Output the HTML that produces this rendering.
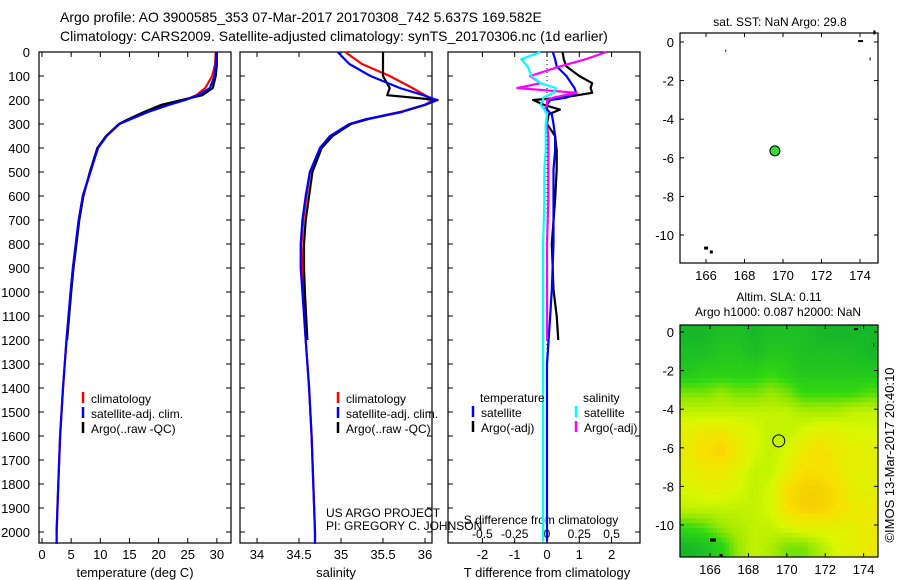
<!DOCTYPE html>
<html><head><meta charset="utf-8">
<style>
body{margin:0;background:#fff;}
svg{display:block;font-family:"Liberation Sans",sans-serif;}
</style></head>
<body>
<svg id="c" width="900" height="580" viewBox="0 0 900 580"></svg>
<script>
const depths=[0,50,100,150,180,200,220,250,280,300,350,400,500,600,700,800,900,1000,1200,1400,1600,1800,2000,2050];
const tempClim=[29.8,29.7,29.2,28.0,26.5,24.5,21.5,18.0,15.0,13.2,11.0,9.5,8.3,7.0,6.3,5.8,5.3,4.9,4.2,3.6,3.1,2.8,2.5,2.5];
const tempSat=[29.9,29.8,29.6,28.8,26.8,24.6,21.8,18.2,15.2,13.3,11.1,9.6,8.3,7.0,6.3,5.8,5.3,4.9,4.2,3.6,3.1,2.8,2.5,2.5];
const tempArgo=[30.0,30.0,29.8,29.3,27.5,24.0,20.5,17.5,14.8,13.2,11.0,9.5,8.2,7.1,6.4,5.9,5.4,5.0,4.3];
const salClim=[35.05,35.25,35.58,35.85,36.0,36.1,36.0,35.7,35.3,35.1,34.87,34.75,34.63,34.59,34.55,34.53,34.54,34.55,34.58,34.62,34.65,34.67,34.69,34.69];
const salSat=[34.96,35.1,35.35,35.7,35.98,36.14,36.0,35.72,35.3,35.1,34.87,34.75,34.63,34.58,34.54,34.52,34.52,34.54,34.58,34.62,34.65,34.67,34.69,34.69];
const salArgo=[35.5,35.5,35.5,35.58,35.55,36.15,36.0,35.72,35.32,35.12,34.9,34.77,34.66,34.62,34.58,34.56,34.56,34.57,34.6];
const dDepths=[0,30,60,100,130,150,170,190,200,220,240,260,300,350,410,490,615,800,990,1100,1200,1300,1500,1700,2000,2040];
const dTArgo=[0.48,0.52,0.6,1.0,1.4,1.35,1.4,0.5,-0.43,-0.1,0.4,0.05,0.0,0.25,0.3,0.3,0.25,0.15,0.2,0.3,0.35];
const dTSat=[0.18,0.25,0.3,0.6,0.75,0.85,0.9,0.6,0.1,0.0,0.0,0.15,0.2,0.25,0.25,0.2,0.2,0.2,0.15,0.1,0.05,0.0,0.0,0.0,0.0,0.0];
const dSArgo=[0.46,0.3,0.1,-0.13,-0.05,-0.23,0.23,0.05,0.0,0.0,-0.02,0.0,0.0,0.01,0.01,0.01,0.01,0.0,0.0,0.0,0.0];
const dSSat=[-0.05,-0.2,-0.15,-0.12,-0.05,0.07,0.05,-0.03,-0.03,-0.05,-0.02,0.0,-0.01,-0.01,-0.01,-0.02,-0.02,-0.03,-0.03,-0.03,-0.03,-0.03,-0.03,-0.03,-0.03,-0.03];
const depthTicks=[0,100,200,300,400,500,600,700,800,900,1000,1100,1200,1300,1400,1500,1600,1700,1800,1900,2000];
const tTicks=[0,5,10,15,20,25,30];
const sTicks=[34,34.5,35,35.5,36];
const sTickLabels=["34","34.5","35","35.5","36"];
const tdTicks=[-2,-1,0,1,2];
const sdTicks=[-0.5,-0.25,0,0.25,0.5];
const sdTickLabels=["-0.5","-0.25","0","0.25","0.5"];
const lonTicks=[166,168,170,172,174];
const latTicks=[0,-2,-4,-6,-8,-10];
const argoLon=169.58, argoLat=-5.64;
const slaGrid=[
[0.03,0.03,0.04,0.04,0.03,0.04,0.04,0.04,0.03,0.03,0.03,0.03],
[0.04,0.04,0.05,0.05,0.04,0.05,0.05,0.04,0.04,0.04,0.04,0.03],
[0.05,0.06,0.06,0.06,0.06,0.07,0.06,0.05,0.05,0.05,0.05,0.05],
[0.09,0.09,0.10,0.09,0.09,0.10,0.09,0.07,0.07,0.07,0.07,0.08],
[0.12,0.12,0.12,0.12,0.12,0.12,0.12,0.11,0.11,0.11,0.12,0.12],
[0.14,0.15,0.15,0.14,0.13,0.12,0.12,0.13,0.14,0.14,0.13,0.13],
[0.15,0.16,0.17,0.15,0.13,0.12,0.13,0.15,0.16,0.15,0.14,0.14],
[0.14,0.15,0.15,0.14,0.12,0.12,0.14,0.16,0.16,0.15,0.14,0.14],
[0.13,0.14,0.14,0.13,0.12,0.13,0.16,0.17,0.17,0.16,0.14,0.14],
[0.12,0.12,0.12,0.12,0.12,0.13,0.16,0.17,0.17,0.16,0.15,0.15],
[0.07,0.08,0.10,0.11,0.12,0.12,0.13,0.14,0.14,0.14,0.14,0.15],
[0.03,0.04,0.06,0.10,0.12,0.11,0.09,0.09,0.11,0.13,0.14,0.15]];

const NS="http://www.w3.org/2000/svg";
const svg=document.getElementById('c');
function el(tag,attrs,parent){const e=document.createElementNS(NS,tag);for(const k in attrs)e.setAttribute(k,attrs[k]);(parent||svg).appendChild(e);return e;}
function txt(x,y,s,anchor,size,parent){const t=el('text',{x:x,y:y,'text-anchor':anchor||'start','font-size':size||13,fill:'#000'},parent);t.textContent=s;return t;}

const Y=d=>52+d*0.24;
const xT=t=>42+t*5.83;
const xS=s=>257+(s-34)*84;
const xTD=v=>547+v*32.3;
const xSD=v=>547+v*129.2;

let t1=txt(60,22,"Argo profile: AO 3900585_353 07-Mar-2017 20170308_742 5.637S 169.582E","start",14);

let t2=txt(60,41,"Climatology: CARS2009. Satellite-adjusted climatology: synTS_20170306.nc (1d earlier)","start",14);


function panel(x0,name){
  const g=el('g',{});
  
  
  el('rect',{x:x0,y:52,width:192,height:491,fill:'none',stroke:'#000','stroke-width':1.2},g);
  return g;
}
function line(g,xs,ys,xf,color,name){
  const p=xs.map((v,i)=>xf(v).toFixed(1)+','+Y(ys[i]).toFixed(1)).join(' ');
  const l=el('polyline',{points:p,fill:'none',stroke:color,'stroke-width':2.2,'stroke-linejoin':'round'},g);
  
  
}
function xticks(g,ticks,labels,xf,y){
  ticks.forEach((t,i)=>{const x=xf(t);
    el('line',{x1:x,y1:543,x2:x,y2:538,stroke:'#000'},g);
    el('line',{x1:x,y1:52,x2:x,y2:57,stroke:'#000'},g);
    txt(x,y,labels?labels[i]:String(t),'middle',13,g);});
}
const g1=panel(39,'temperature-panel');
depthTicks.forEach(d=>{el('line',{x1:39,y1:Y(d),x2:44,y2:Y(d),stroke:'#000'},g1);el('line',{x1:231,y1:Y(d),x2:226,y2:Y(d),stroke:'#000'},g1);txt(30,Y(d)+5,String(d),'end',13,g1);});
xticks(g1,tTicks,null,xT,559);
txt(135,577,"temperature (deg C)",'middle',13,g1);
line(g1,tempClim,depths,xT,'#f00','temp-climatology-line');
line(g1,tempArgo,depths.slice(0,tempArgo.length),xT,'#000','temp-argo-line');
line(g1,tempSat,depths,xT,'#00f','temp-satellite-line');
function legend(g,x,y,items){items.forEach((it,i)=>{el('line',{x1:x,y1:y+i*15-11,x2:x,y2:y+i*15,stroke:it[1],'stroke-width':2.5},g);const t=txt(x+8,y+i*15,it[0],'start',12,g);});}
legend(g1,83,403,[["climatology","#f00"],["satellite-adj. clim.","#00f"],["Argo(..raw -QC)","#000"]]);
const g2=panel(240,'salinity-panel');
depthTicks.forEach(d=>{el('line',{x1:240,y1:Y(d),x2:245,y2:Y(d),stroke:'#000'},g2);el('line',{x1:432,y1:Y(d),x2:427,y2:Y(d),stroke:'#000'},g2);});
xticks(g2,sTicks,sTickLabels,xS,559);
txt(336,577,"salinity",'middle',13,g2);
line(g2,salClim,depths,xS,'#f00','sal-climatology-line');
line(g2,salArgo,depths.slice(0,salArgo.length),xS,'#000','sal-argo-line');
line(g2,salSat,depths,xS,'#00f','sal-satellite-line');
legend(g2,338,403,[["climatology","#f00"],["satellite-adj. clim.","#00f"],["Argo(..raw -QC)","#000"]]);
txt(326,517,"US ARGO PROJECT",'start',12,g2);
txt(326,530,"PI: GREGORY C. JOHNSON",'start',12,g2);
const g3=panel(448,'difference-panel');
depthTicks.forEach(d=>{el('line',{x1:448,y1:Y(d),x2:453,y2:Y(d),stroke:'#000'},g3);el('line',{x1:640,y1:Y(d),x2:635,y2:Y(d),stroke:'#000'},g3);});
el('line',{x1:547,y1:52,x2:547,y2:543,stroke:'#000','stroke-dasharray':'1,3'},g3);
tdTicks.forEach(t=>{const x=xTD(t);el('line',{x1:x,y1:543,x2:x,y2:538,stroke:'#000'},g3);el('line',{x1:x,y1:52,x2:x,y2:57,stroke:'#000'},g3);txt(x,559,String(t),'middle',13,g3);});
sdTicks.forEach((t,i)=>txt(xSD(t),538,sdTickLabels[i],'middle',12,g3));
txt(541,524,"S difference from climatology",'middle',12,g3);
txt(547,577,"T difference from climatology",'middle',13,g3);
line(g3,dTArgo,dDepths.slice(0,dTArgo.length),xTD,'#000','tdiff-argo-line');
line(g3,dTSat,dDepths,xTD,'#00f','tdiff-satellite-line');
line(g3,dSArgo,dDepths.slice(0,dSArgo.length),xSD,'#f0f','sdiff-argo-line');
line(g3,dSSat,dDepths,xSD,'#0ff','sdiff-satellite-line');
txt(480,402,"temperature",'start',12,g3);txt(583,402,"salinity",'start',12,g3);
legend(g3,473,417,[["satellite","#00f"],["Argo(-adj)","#000"]]);
legend(g3,576,417,[["satellite","#0ff"],["Argo(-adj)","#f0f"]]);

function mapAxes(g,x0,y0,w,h,lx,ly){
  lonTicks.forEach(l=>{const x=lx(l);el('line',{x1:x,y1:y0+h,x2:x,y2:y0+h-4,stroke:'#000'},g);el('line',{x1:x,y1:y0,x2:x,y2:y0+4,stroke:'#000'},g);txt(x,y0+h+17,String(l),'middle',13,g);});
  latTicks.forEach(l=>{const y=ly(l);el('line',{x1:x0,y1:y,x2:x0+4,y2:y,stroke:'#000'},g);el('line',{x1:x0+w,y1:y,x2:x0+w-4,y2:y,stroke:'#000'},g);txt(x0-6,y+5,String(l),'end',13,g);});
  el('rect',{x:x0,y:y0,width:w,height:h,fill:'none',stroke:'#000','stroke-width':1.2},g);
}
const lxA=l=>706+(l-166)*19.25, lyA=l=>42-l*19.3;
const gm1=el('g',{});
txt(780,26,"sat. SST: NaN Argo: 29.8",'middle',12,gm1);
mapAxes(gm1,680,33,198,230,lxA,lyA);
[[174.7,0.6,2,4],[165.9,-10.6,4,3],[166.2,-10.8,3,3],[174.5,-0.8,1,3],[167,-0.4,1,2],[173.9,0.1,5,2]].forEach(c=>el('rect',{x:lxA(c[0]),y:lyA(c[1]),width:c[2],height:c[3],fill:'#000'},gm1));
el('circle',{cx:lxA(argoLon),cy:lyA(argoLat),r:5,fill:'#33dd33',stroke:'#000'},gm1);

const lxB=l=>710+(l-166)*19.2, lyB=l=>332-l*19.3;
const gm2=el('g',{});
txt(779,301,"Altim. SLA: 0.11",'middle',12,gm2);
txt(778,316,"Argo h1000: 0.087 h2000: NaN",'middle',12,gm2);
function cmap(v){const stops=[[0.02,[16,176,48]],[0.07,[48,216,16]],[0.1,[150,232,0]],[0.13,[216,248,0]],[0.16,[248,224,0]],[0.19,[240,180,0]]];
  if(v<=stops[0][0])return 'rgb('+stops[0][1]+')';
  for(let i=1;i<stops.length;i++){if(v<=stops[i][0]){const a=stops[i-1],b=stops[i],f=(v-a[0])/(b[0]-a[0]);return 'rgb('+a[1].map((c,k)=>Math.round(c+(b[1][k]-c)*f)).join(',')+')';}}
  return 'rgb('+stops[stops.length-1][1]+')';}
const x0=680,y0=325,W=198,H=232,nr=slaGrid.length,nc=slaGrid[0].length,SUB=4;
function sample(r,c){r=Math.max(0,Math.min(nr-1,r));c=Math.max(0,Math.min(nc-1,c));const r0=Math.floor(r),c0=Math.floor(c),r1=Math.min(nr-1,r0+1),c1=Math.min(nc-1,c0+1),fr=r-r0,fc=c-c0;
  return slaGrid[r0][c0]*(1-fr)*(1-fc)+slaGrid[r0][c1]*(1-fr)*fc+slaGrid[r1][c0]*fr*(1-fc)+slaGrid[r1][c1]*fr*fc;}
const cw=W/(nc*SUB),ch=H/(nr*SUB);
for(let i=0;i<nr*SUB;i++)for(let j=0;j<nc*SUB;j++){
  const v=sample((i+0.5)/SUB-0.5,(j+0.5)/SUB-0.5);
  const cell=el('rect',{x:(x0+j*cw).toFixed(2),y:(y0+i*ch).toFixed(2),width:(cw+0.5).toFixed(2),height:(ch+0.5).toFixed(2),fill:cmap(v)},gm2);
  
  
}
mapAxes(gm2,680,325,198,232,lxB,lyB);
el('circle',{cx:lxB(argoLon),cy:lyB(argoLat),r:6,fill:'none',stroke:'#000'},gm2);
[[166,-10.7,6,3],[166.5,-11.5,3,3],[173.5,0.2,4,2],[174.5,-0.6,1,3]].forEach(c=>el('rect',{x:lxB(c[0]),y:lyB(c[1]),width:c[2],height:c[3],fill:'#000'},gm2));
const cr=txt(0,0,"©IMOS 13-Mar-2017 20:40:10",'middle',13);
cr.setAttribute('transform','translate(894,455) rotate(-90)');

</script>
</body></html>
